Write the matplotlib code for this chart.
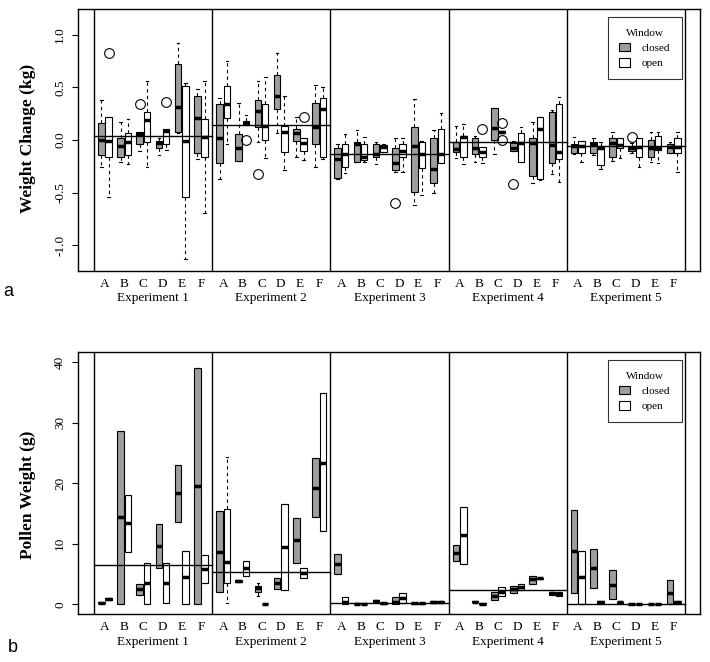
import matplotlib
matplotlib.use('Agg')
import matplotlib.pyplot as plt
from matplotlib.patches import Patch
from matplotlib.transforms import blended_transform_factory, offset_copy

plt.rcParams['font.family'] = 'Liberation Serif'

experiments = ['Experiment 1', 'Experiment 2', 'Experiment 3', 'Experiment 4', 'Experiment 5']
treatments = ['A', 'B', 'C', 'D', 'E', 'F']
windows = ['closed', 'open']

# Weight change (kg); each row = one experiment, 12 boxes: A closed, A open, B closed, ...
wc_lo = [
    [-0.253, -0.538, -0.206, -0.231, -0.101, -0.253, -0.142, -0.095, 0.07, -1.133, -0.184, -0.696],
    [-0.373, -0.038, -0.199, 0.142, -0.016, -0.174, 0.063, -0.285, -0.158, -0.19, -0.253, -0.18],
    [-0.373, -0.316, -0.206, -0.206, -0.231, -0.111, -0.3, -0.3, -0.617, -0.522, -0.506, -0.215],
    [-0.174, -0.231, -0.212, -0.222, -0.133, 0.065, -0.101, -0.206, -0.405, -0.38, -0.323, -0.396],
    [-0.133, -0.206, -0.142, -0.278, -0.196, -0.174, -0.12, -0.253, -0.206, -0.222, -0.12, -0.3],
]
wc_q1 = [
    [-0.142, -0.158, -0.165, -0.142, -0.041, -0.022, -0.079, -0.041, 0.079, -0.544, -0.12, -0.158],
    [-0.222, 0.206, -0.199, 0.142, 0.12, 0.0, 0.291, -0.111, -0.006, -0.101, -0.041, -0.158],
    [-0.364, -0.259, -0.206, -0.19, -0.165, -0.111, -0.285, -0.165, -0.49, -0.263, -0.411, -0.215],
    [-0.111, -0.158, -0.136, -0.158, 0.0, 0.065, -0.101, -0.206, -0.339, -0.37, -0.222, -0.18],
    [-0.12, -0.12, -0.12, -0.237, -0.158, -0.073, -0.101, -0.158, -0.165, -0.095, -0.12, -0.12],
]
wc_med = [
    [0.0, -0.01, -0.057, -0.022, 0.054, 0.19, -0.032, 0.085, 0.31, -0.01, 0.212, 0.032],
    [0.022, 0.342, -0.079, 0.158, 0.278, 0.136, 0.418, 0.073, 0.063, -0.032, 0.127, 0.294],
    [-0.18, -0.136, -0.04, -0.158, -0.133, -0.063, -0.222, -0.101, -0.057, -0.136, -0.278, -0.136],
    [-0.089, 0.025, -0.073, -0.111, 0.111, 0.073, -0.079, -0.032, -0.032, 0.101, -0.047, -0.111],
    [-0.057, -0.057, -0.038, -0.079, -0.032, -0.047, -0.079, -0.063, -0.079, -0.079, -0.063, -0.063],
]
wc_q3 = [
    [0.158, 0.222, 0.022, 0.063, 0.079, 0.263, -0.006, 0.101, 0.718, 0.516, 0.418, 0.2],
    [0.339, 0.516, 0.057, 0.184, 0.38, 0.339, 0.617, 0.136, 0.101, 0.022, 0.348, 0.396],
    [-0.079, -0.041, -0.022, -0.041, -0.041, -0.047, -0.079, -0.041, 0.12, -0.016, 0.022, 0.101],
    [-0.016, 0.038, 0.022, -0.063, 0.3, 0.081, -0.025, 0.063, 0.022, 0.215, 0.263, 0.339],
    [-0.041, -0.006, -0.022, -0.057, 0.022, 0.022, -0.063, 0.022, 0.0, 0.038, -0.041, 0.022],
]
wc_hi = [
    [0.38, 0.222, 0.174, 0.2, 0.079, 0.56, 0.022, 0.101, 0.918, 0.538, 0.481, 0.56],
    [0.396, 0.753, 0.354, 0.237, 0.56, 0.595, 0.823, 0.418, 0.215, 0.022, 0.522, 0.5],
    [-0.041, 0.057, 0.095, 0.032, -0.022, -0.041, 0.022, 0.022, 0.389, -0.005, 0.095, 0.253],
    [0.133, 0.152, 0.038, -0.063, 0.3, 0.081, -0.006, 0.12, 0.174, 0.222, 0.285, 0.411],
    [0.032, -0.006, 0.022, -0.022, 0.079, 0.022, -0.032, 0.022, 0.079, 0.079, -0.022, 0.079],
]
# (experiment, box, value)
wc_outliers = [(0, 1, 0.823), (0, 4, 0.342), (0, 7, 0.358), (1, 3, 0.0), (1, 4, -0.323),
               (1, 9, 0.215), (2, 6, -0.595), (3, 3, 0.101), (3, 5, 0.158), (3, 5, 0.0),
               (3, 6, -0.418), (4, 6, 0.032)]
wc_means = [0.038, 0.142, -0.136, -0.022, -0.057]

# Pollen weight (g)
pw_q1 = [
    [0.17, 0.75, 0.0, 8.7, 1.54, 0.0, 6.06, 0.17, 13.55, 0.0, 0.0, 3.58],
    [1.98, 3.58, 3.75, 4.68, 1.98, 0.0, 2.59, 2.37, 6.78, 4.4, 14.5, 12.1],
    [4.96, 0.0, 0.05, 0.0, 0.45, 0.1, 0.0, 0.17, 0.1, 0.1, 0.3, 0.35],
    [7.2, 6.6, 0.35, 0.05, 0.72, 1.38, 1.82, 2.37, 3.3, 4.2, 1.55, 1.3],
    [1.93, 0.0, 2.64, 0.3, 0.83, 0.2, 0.0, 0.0, 0.0, 0.0, 0.0, 0.3],
]
pw_med = [
    [0.28, 0.88, 14.4, 13.4, 2.48, 3.47, 9.64, 3.58, 18.35, 4.46, 19.56, 5.9],
    [8.7, 7.05, 3.86, 5.95, 2.64, 0.05, 3.47, 9.4, 10.6, 5.12, 19.3, 23.4],
    [6.6, 0.44, 0.1, 0.05, 0.55, 0.17, 0.44, 1.0, 0.17, 0.17, 0.39, 0.44],
    [8.5, 11.4, 0.44, 0.11, 1.38, 2.09, 2.48, 2.81, 4.19, 4.3, 1.82, 1.65],
    [8.8, 4.46, 5.95, 0.44, 3.2, 0.33, 0.0, 0.0, 0.0, 0.0, 1.93, 0.44],
]
pw_q3 = [
    [0.39, 1.0, 28.7, 18.07, 3.3, 6.9, 13.2, 6.9, 23.1, 8.8, 39.0, 8.1],
    [15.4, 15.7, 3.97, 7.2, 3.03, 0.1, 4.3, 16.5, 14.3, 5.95, 24.1, 34.9],
    [8.26, 1.16, 0.15, 0.1, 0.65, 0.25, 1.16, 1.93, 0.25, 0.25, 0.5, 0.55],
    [9.75, 16.1, 0.55, 0.2, 2.09, 2.81, 3.03, 3.3, 4.74, 4.4, 2.1, 2.0],
    [15.6, 8.8, 9.2, 0.6, 5.67, 0.45, 0.05, 0.05, 0.05, 0.05, 4.0, 0.6],
]
# boxes with whiskers beyond the box: (experiment, box, low, high)
pw_whiskers = [(1, 1, 0.17, 24.4), (1, 4, 1.38, 3.47)]
pw_outliers = []
pw_means = [6.45, 5.29, 0.17, 2.37, 0.0]

pw_lo = [row[:] for row in pw_q1]
pw_hi = [row[:] for row in pw_q3]
for e, k, lo, hi in pw_whiskers:
    pw_lo[e][k] = lo
    pw_hi[e][k] = hi

grey = '#9e9e9e'


def draw_panel(ax, lo, q1, med, q3, hi, outliers, means, ylim, yticks, yticklabels):
    stats, pos = [], []
    for e in range(len(experiments)):
        for k in range(12):
            fl = [v for (oe, ok, v) in outliers if oe == e and ok == k]
            stats.append(dict(whislo=lo[e][k], q1=q1[e][k], med=med[e][k],
                              q3=q3[e][k], whishi=hi[e][k], fliers=fl))
            pos.append(e + 0.093 + 0.1623 * (k // 2) + (0.031 if k % 2 else -0.031))
    bp = ax.bxp(stats, positions=pos, widths=0.055, capwidths=0.022, patch_artist=True,
                manage_ticks=False,
                boxprops=dict(edgecolor='black', linewidth=0.8),
                whiskerprops=dict(color='black', linewidth=0.8, linestyle=(0, (3, 3))),
                capprops=dict(color='black', linewidth=0.8),
                medianprops=dict(color='black', linewidth=2.5, solid_capstyle='butt'),
                flierprops=dict(marker='o', markerfacecolor='none', markeredgecolor='black',
                                markersize=7, markeredgewidth=0.8))
    for k, box in enumerate(bp['boxes']):
        box.set_facecolor(grey if k % 2 == 0 else 'white')

    for e, m in enumerate(means):
        ax.plot([e, e + 1], [m, m], color='black', linewidth=1.0, zorder=5)
    for e in range(len(experiments) + 1):
        ax.axvline(e, color='black', linewidth=1.0)

    ax.set_xlim(-0.1354, 5.127)
    ax.set_ylim(*ylim)
    centers = [e + 0.093 + 0.1623 * i for e in range(len(experiments)) for i in range(6)]
    ax.set_xticks(centers)
    ax.set_xticklabels(treatments * len(experiments), fontsize=9.5)
    ax.tick_params(axis='x', length=0, pad=5)
    ax.set_yticks(yticks)
    ax.set_yticklabels(yticklabels, rotation=90, va='center', fontsize=9.5)
    ax.tick_params(axis='y', length=4.5, width=0.8, pad=4)
    trans = blended_transform_factory(ax.transData, ax.transAxes)
    for e, name in enumerate(experiments):
        ax.text(e + 0.5, 0, name, transform=offset_copy(trans, fig=ax.figure, y=-20, units='points'),
                ha='center', va='center', fontsize=9.5)
    for s in ax.spines.values():
        s.set_linewidth(1.0)

    handles = [Patch(facecolor=grey, edgecolor='black', linewidth=0.8),
               Patch(facecolor='white', edgecolor='black', linewidth=0.8)]
    leg = ax.legend(handles, windows, title='Window', loc='upper right',
                    bbox_to_anchor=(0.9706, 0.969), borderaxespad=0, fancybox=False,
                    edgecolor='black', fontsize=8, title_fontsize=8, handlelength=1.0,
                    handleheight=0.85, handletextpad=1.1, labelspacing=0.45, borderpad=1.0)
    leg.get_frame().set_linewidth(0.8)
    leg.set_zorder(10)


fig = plt.figure(figsize=(7.1, 6.62), dpi=100)
ax1 = fig.add_axes([0.10986, 0.59109, 0.87606, 0.39486])
ax2 = fig.add_axes([0.10986, 0.07251, 0.87606, 0.39532])

draw_panel(ax1, wc_lo, wc_q1, wc_med, wc_q3, wc_hi, wc_outliers, wc_means, (-1.241, 1.241),
           [-1.0, -0.5, 0.0, 0.5, 1.0], ['-1.0', '-0.5', '0.0', '0.5', '1.0'])
draw_panel(ax2, pw_lo, pw_q1, pw_med, pw_q3, pw_hi, pw_outliers, pw_means, (-1.6, 41.65),
           [0, 10, 20, 30, 40], ['0', '10', '20', '30', '40'])

fig.text(28 / 710, 1 - 138 / 662, 'Weight Change (kg)', rotation=90, ha='center', va='center',
         fontsize=12.5, fontweight='bold')
fig.text(28 / 710, 1 - 495 / 662, 'Pollen Weight (g)', rotation=90, ha='center', va='center',
         fontsize=12.5, fontweight='bold')
fig.text(8 / 710, 1 - 291 / 662, 'a', ha='center', va='center', fontsize=13, family='Liberation Sans')
fig.text(13 / 710, 1 - 648 / 662, 'b', ha='center', va='center', fontsize=13, family='Liberation Sans')

fig.savefig('out.png', dpi=100)
